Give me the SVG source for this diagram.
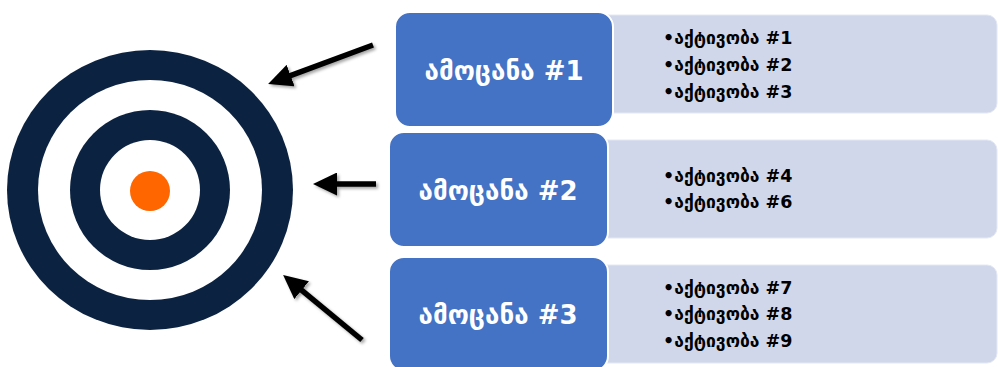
<svg xmlns="http://www.w3.org/2000/svg" width="998" height="367" viewBox="0 0 998 367">
  <style>
    .task { fill: #4472c4; stroke: #ffffff; stroke-width: 2; }
    .acts { fill: #d0d7ea; stroke: #e4e8f3; stroke-width: 1; }
    .tt { font-family: "DejaVu Sans", "Noto Sans", sans-serif; font-weight: bold; font-size: 26px; fill: #ffffff; text-anchor: middle; }
    .at { font-family: "DejaVu Sans", "Noto Sans", sans-serif; font-weight: bold; font-size: 17.5px; fill: #000000; }
    .dark { fill: #0b2240; }
    .arrow { stroke: #000000; stroke-width: 5.5; fill: none; marker-end: url(#head); filter: url(#sh); }
  </style>
  <defs>
    <marker id="head" markerUnits="userSpaceOnUse" viewBox="0 0 24 23" markerWidth="24" markerHeight="23" refX="6" refY="11.5" orient="auto">
      <path d="M0,0 L24,11.5 L0,23 z" fill="#000000"/>
    </marker>
    <filter id="sh" filterUnits="userSpaceOnUse" x="0" y="0" width="998" height="367">
      <feDropShadow dx="2" dy="2" stdDeviation="1.5" flood-color="#000000" flood-opacity="0.35"/>
    </filter>
  </defs>
  <rect width="998" height="367" fill="#ffffff"/>

  <g id="target">
    <ellipse class="dark" cx="150" cy="190" rx="143" ry="140"/>
    <ellipse fill="#ffffff" cx="150" cy="190" rx="112" ry="110"/>
    <circle class="dark" cx="150" cy="190" r="80"/>
    <circle fill="#ffffff" cx="150" cy="190" r="50"/>
    <circle fill="#ff6600" cx="150" cy="191" r="20"/>
  </g>

  <g id="connectors">
    <line class="arrow" x1="373" y1="45" x2="285" y2="77.7"/>
    <line class="arrow" x1="376" y1="184" x2="331" y2="184"/>
    <line class="arrow" x1="362" y1="340" x2="297" y2="286.4"/>
  </g>

  <g id="activities-1">
    <rect class="acts" x="598" y="15" width="399" height="98" rx="10"/>
    <text class="at" x="663" y="44">•აქტივობა #1</text>
    <text class="at" x="663" y="71">•აქტივობა #2</text>
    <text class="at" x="663" y="98">•აქტივობა #3</text>
  </g>
  <g id="task-1">
    <rect class="task" x="395" y="12" width="218" height="115" rx="15"/>
    <text class="tt" x="504" y="80">ამოცანა #1</text>
  </g>

  <g id="activities-2">
    <rect class="acts" x="595" y="140" width="402" height="98" rx="10"/>
    <text class="at" x="663" y="182">•აქტივობა #4</text>
    <text class="at" x="663" y="208">•აქტივობა #6</text>
  </g>
  <g id="task-2">
    <rect class="task" x="389" y="132" width="219" height="115" rx="15"/>
    <text class="tt" x="498" y="200">ამოცანა #2</text>
  </g>

  <g id="activities-3">
    <rect class="acts" x="595" y="265" width="402" height="98" rx="10"/>
    <text class="at" x="663" y="294">•აქტივობა #7</text>
    <text class="at" x="663" y="320">•აქტივობა #8</text>
    <text class="at" x="663" y="347">•აქტივობა #9</text>
  </g>
  <g id="task-3">
    <rect class="task" x="389" y="257" width="219" height="114" rx="15"/>
    <text class="tt" x="498" y="324">ამოცანა #3</text>
  </g>
</svg>
